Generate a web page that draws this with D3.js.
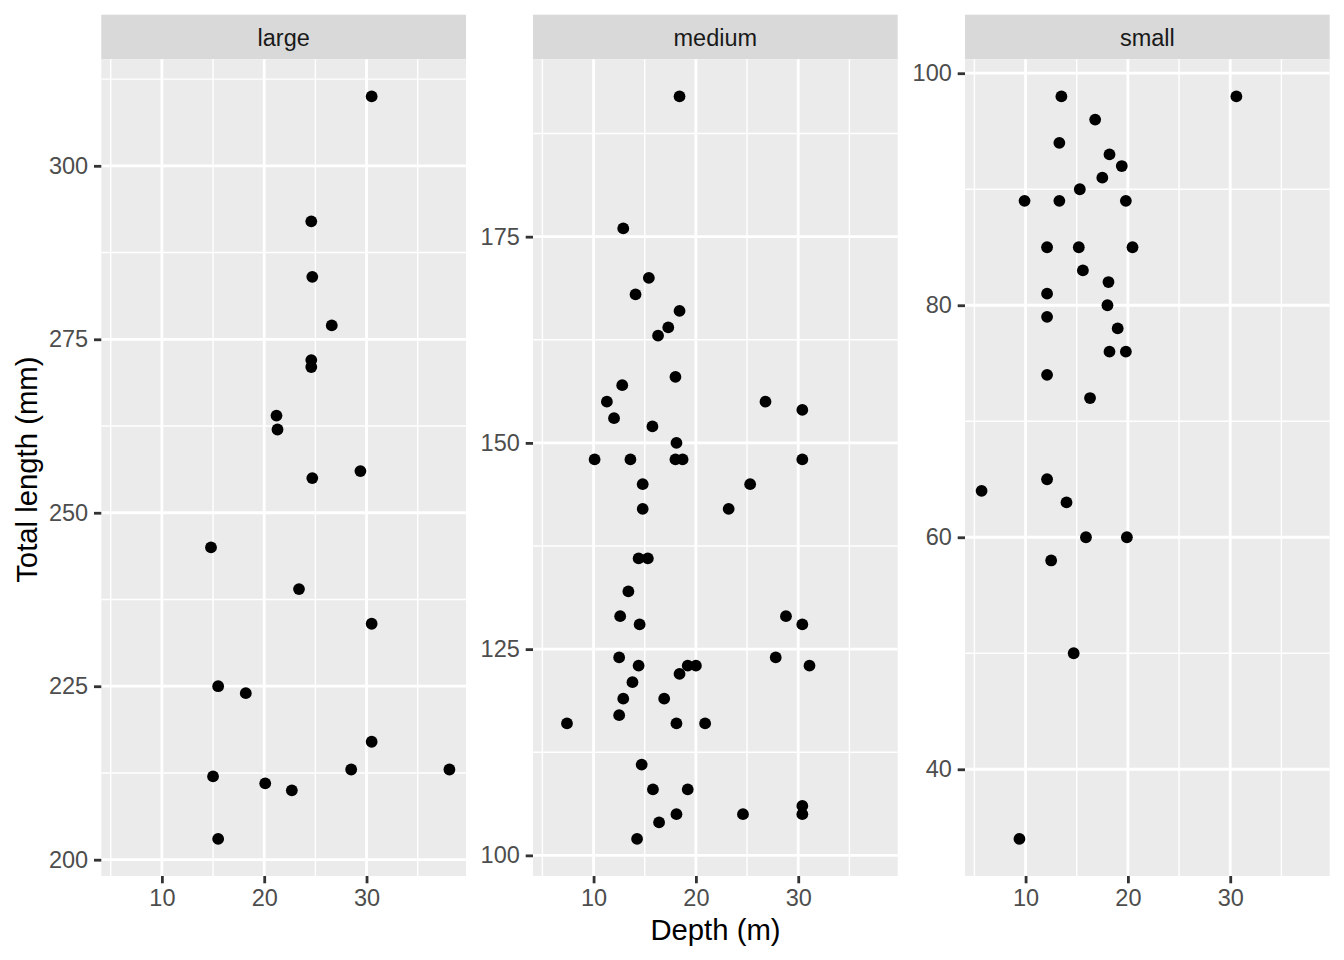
<!DOCTYPE html>
<html>
<head>
<meta charset="utf-8">
<script src="https://cdn.jsdelivr.net/npm/d3@7"></script>
<style>
  body { margin: 0; background: #fff; }
  text { font-family: "Liberation Sans", Arial, Helvetica, sans-serif; }
</style>
</head>
<body>
<svg id="chart" width="1344" height="960"></svg>
<script>
// Facet names, in panel order
const panelNames = ['large', 'medium', 'small'];

// large
const largeDepth = [30.5, 24.6, 24.7, 26.6, 24.6, 24.6, 21.2, 21.3, 29.4, 24.7, 14.8, 23.4, 30.5, 15.5, 18.2,
                    30.5, 28.5, 38.1, 15.0, 20.1, 22.7, 15.5];
const largeLength = [310, 292, 284, 277, 272, 271, 264, 262, 256, 255, 245, 239, 234, 225, 224,
                     217, 213, 213, 212, 211, 210, 203];

// medium
const mediumDepth = [18.4, 12.9, 15.4, 14.1, 18.4, 17.3, 16.3, 18.0, 12.8, 11.3, 26.8, 30.4, 12.0, 15.75, 18.1,
                     10.1, 13.6, 18.0, 18.7, 30.4, 14.8, 25.3, 14.8, 23.2, 14.4, 15.3, 13.4, 12.6, 28.8, 14.5,
                     30.4, 12.5, 27.8, 14.4, 19.2, 20.0, 31.1, 18.4, 13.8, 12.9, 16.9, 12.5, 7.4, 18.1, 20.9,
                     14.7, 15.8, 19.2, 30.4, 30.4, 18.1, 24.6, 16.4, 14.25];
const mediumLength = [192, 176, 170, 168, 166, 164, 163, 158, 157, 155, 155, 154, 153, 152, 150,
                      148, 148, 148, 148, 148, 145, 145, 142, 142, 136, 136, 132, 129, 129, 128,
                      128, 124, 124, 123, 123, 123, 123, 122, 121, 119, 119, 117, 116, 116, 116,
                      111, 108, 108, 106, 105, 105, 105, 104, 102];

// small
const smallDepth = [13.5, 30.6, 16.8, 13.3, 18.2, 19.4, 17.5, 15.3, 9.9, 13.3, 19.8, 12.1, 15.2, 20.45, 15.6,
                    18.1, 12.1, 18.0, 12.1, 19.0, 18.2, 19.8, 12.1, 16.3, 12.1, 5.7, 14.0, 15.9, 19.9, 12.5,
                    14.7, 9.4];
const smallLength = [98, 98, 96, 94, 93, 92, 91, 90, 89, 89, 89, 85, 85, 85, 83,
                     82, 81, 80, 79, 78, 76, 76, 74, 72, 65, 64, 63, 60, 60, 58,
                     50, 34];

// tick labels
const xTicks = [10, 20, 30];
const largeTicks = [200, 225, 250, 275, 300];
const mediumTicks = [100, 125, 150, 175];
const smallTicks = [40, 60, 80, 100];

const xTitle = 'Depth (m)';
const yTitle = 'Total length (mm)';

const depths = [largeDepth, mediumDepth, smallDepth];
const lengths = [largeLength, mediumLength, smallLength];
const yTickSets = [largeTicks, mediumTicks, smallTicks];

// Layout (px): 7x5in at 192dpi, ggplot theme_grey sizes
const panelLeft = [101.3, 533, 965];
const panelWidth = 364.7;
const stripTop = 14.7, stripBottom = 59.3, panelBottom = 876;
const tickLen = 7.3, tickGap = 5.9;

const svg = d3.select('#chart');

// ggplot style 5% expansion
const expand = ext => {
    const d = ext[1] - ext[0];
    return [ext[0] - 0.05 * d, ext[1] + 0.05 * d];
};

// minor breaks: midpoints between majors, one step past each end
const minorOf = (ticks, domain) => {
    const step = ticks[1] - ticks[0];
    const out = [];
    for (let i = -1; i < ticks.length; i++) out.push(ticks[0] + step * (i + 0.5));
    return out.filter(v => v >= domain[0] && v <= domain[1]);
};

// shared x scale domain
const xDomain = expand(d3.extent(d3.merge(depths)));

panelNames.forEach((name, i) => {
    const x0 = panelLeft[i], x1 = x0 + panelWidth;

    const xScale = d3.scaleLinear().domain(xDomain).range([x0, x1]);
    const yDomain = expand(d3.extent(lengths[i]));
    const yScale = d3.scaleLinear().domain(yDomain).range([panelBottom, stripBottom]);

    const g = svg.append('g');

    // strip
    g.append('rect')
        .attr('x', x0).attr('y', stripTop)
        .attr('width', panelWidth).attr('height', stripBottom - stripTop)
        .attr('fill', '#D9D9D9');
    g.append('text')
        .attr('x', (x0 + x1) / 2).attr('y', (stripTop + stripBottom) / 2)
        .attr('dy', '0.38em')
        .attr('text-anchor', 'middle')
        .attr('font-size', 23.5)
        .attr('fill', '#1A1A1A')
        .text(name);

    // panel background
    g.append('rect')
        .attr('x', x0).attr('y', stripBottom)
        .attr('width', panelWidth).attr('height', panelBottom - stripBottom)
        .attr('fill', '#EBEBEB');

    // minor grid
    g.selectAll(null).data(minorOf(xTicks, xDomain)).enter().append('line')
        .attr('x1', d => xScale(d)).attr('x2', d => xScale(d))
        .attr('y1', stripBottom).attr('y2', panelBottom)
        .attr('stroke', '#fff').attr('stroke-width', 1.4);
    g.selectAll(null).data(minorOf(yTickSets[i], yDomain)).enter().append('line')
        .attr('x1', x0).attr('x2', x1)
        .attr('y1', d => yScale(d)).attr('y2', d => yScale(d))
        .attr('stroke', '#fff').attr('stroke-width', 1.4);

    // major grid
    g.selectAll(null).data(xTicks).enter().append('line')
        .attr('x1', d => xScale(d)).attr('x2', d => xScale(d))
        .attr('y1', stripBottom).attr('y2', panelBottom)
        .attr('stroke', '#fff').attr('stroke-width', 2.8);
    g.selectAll(null).data(yTickSets[i]).enter().append('line')
        .attr('x1', x0).attr('x2', x1)
        .attr('y1', d => yScale(d)).attr('y2', d => yScale(d))
        .attr('stroke', '#fff').attr('stroke-width', 2.8);

    // points
    g.selectAll(null).data(d3.zip(depths[i], lengths[i])).enter().append('circle')
        .attr('cx', d => xScale(d[0]))
        .attr('cy', d => yScale(d[1]))
        .attr('r', 5.9)
        .attr('fill', '#000');

    // x axis
    const xAxis = g.append('g')
        .attr('transform', `translate(0, ${panelBottom})`)
        .call(d3.axisBottom(xScale).tickValues(xTicks).tickSize(tickLen).tickPadding(tickGap).tickSizeOuter(0));
    // y axis
    const yAxis = g.append('g')
        .attr('transform', `translate(${x0}, 0)`)
        .call(d3.axisLeft(yScale).tickValues(yTickSets[i]).tickSize(tickLen).tickPadding(tickGap).tickSizeOuter(0));

    [xAxis, yAxis].forEach(ax => {
        ax.select('.domain').remove();
        ax.selectAll('.tick line').attr('stroke', '#333333').attr('stroke-width', 2.8);
        ax.selectAll('.tick text')
            .attr('fill', '#4D4D4D')
            .attr('font-size', 23.5)
            .attr('font-family', '"Liberation Sans", Arial, sans-serif');
    });
});

// axis titles
svg.append('text')
    .attr('x', (panelLeft[0] + panelLeft[2] + panelWidth) / 2)
    .attr('y', 940)
    .attr('text-anchor', 'middle')
    .attr('font-size', 29.3)
    .attr('fill', '#000')
    .text(xTitle);

svg.append('text')
    .attr('transform', `translate(36.5, ${(stripBottom + panelBottom) / 2 + 2}) rotate(-90)`)
    .attr('text-anchor', 'middle')
    .attr('font-size', 29.3)
    .attr('fill', '#000')
    .text(yTitle);
</script>
</body>
</html>
